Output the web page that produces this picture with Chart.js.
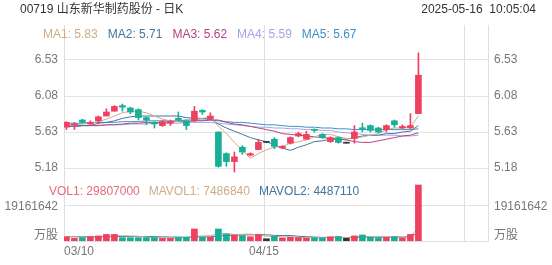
<!DOCTYPE html>
<html>
<head>
<meta charset="utf-8">
<title>00719 日K</title>
<script src="https://cdn.jsdelivr.net/npm/chart.js@4.4.1/dist/chart.umd.min.js"></script>
<style>
    body { margin: 0; background: #fff; }
    #wrap { position: relative; width: 552px; height: 265px; font-family: Arial, "Liberation Sans", "Noto Sans CJK SC", sans-serif; font-size: 12px; }
    #wrap canvas { position: absolute; left: 0; top: 0; }
    .t { position: absolute; white-space: pre; line-height: 12px; }
    .t span { margin-right: 10px; }
    #volRow span { margin-right: 9px; }
</style>
</head>
<body>
<div id="wrap">
    <canvas id="kline" width="552" height="265"></canvas>
    <div class="t" style="left:20px;top:3px;color:#333">00719 山东新华制药股份 - 日K</div>
    <div class="t" style="right:16px;top:3px;color:#333">2025-05-16  10:05:04</div>
    <div class="t" id="maRow" style="left:43px;top:28px"></div>
    <div class="t" id="volRow" style="left:49px;top:185px"></div>
</div>
<script>
// trading days (HK)
const dates = ['03/10','03/11','03/12','03/13','03/14','03/17','03/18','03/19','03/20','03/21',
    '03/24','03/25','03/26','03/27','03/28','03/31','04/01','04/02','04/03','04/07',
    '04/08','04/09','04/10','04/11','04/14','04/15','04/16','04/17','04/22','04/23',
    '04/24','04/25','04/28','04/29','04/30','05/02','05/06','05/07','05/08','05/09',
    '05/12','05/13','05/14','05/15','05/16'];

const open  = [5.69,5.72,5.78,5.73,5.77,5.83,5.89,5.96,5.93,5.91, 5.81,5.75,5.71,5.74,5.80,5.77,5.77,5.90,5.79,5.63,
               5.36,5.26,5.44,5.34,5.41,5.50,5.54,5.43,5.49,5.58, 5.54,5.66,5.60,5.51,5.56,5.49,5.55,5.68,5.71,5.68,
               5.66,5.77,5.68,5.68,5.86];
const high  = [5.76,5.75,5.79,5.77,5.83,5.92,5.96,5.98,5.94,5.92, 5.82,5.76,5.77,5.78,5.88,5.78,5.95,5.91,5.87,5.63,
               5.37,5.38,5.46,5.37,5.54,5.50,5.56,5.46,5.57,5.63, 5.64,5.67,5.61,5.57,5.57,5.49,5.71,5.74,5.72,5.69,
               5.72,5.78,5.72,5.86,6.62];
const low   = [5.66,5.66,5.74,5.71,5.73,5.83,5.89,5.89,5.86,5.78, 5.72,5.68,5.70,5.71,5.77,5.66,5.76,5.85,5.79,5.19,
               5.20,5.13,5.35,5.33,5.41,5.50,5.42,5.42,5.48,5.57, 5.54,5.63,5.55,5.50,5.49,5.49,5.49,5.63,5.63,5.62,
               5.63,5.69,5.67,5.67,5.86];
const close = [5.75,5.73,5.75,5.75,5.82,5.88,5.95,5.94,5.88,5.81, 5.78,5.73,5.76,5.76,5.78,5.71,5.89,5.88,5.83,5.20,
               5.26,5.32,5.38,5.36,5.50,5.50,5.45,5.45,5.56,5.61, 5.60,5.65,5.56,5.56,5.50,5.49,5.63,5.67,5.65,5.63,
               5.71,5.72,5.70,5.71,6.34];

const ma1 = [5.72,5.72,5.73,5.74,5.76,5.79,5.83,5.87,5.89,5.89, 5.87,5.83,5.79,5.77,5.76,5.75,5.78,5.80,5.82,5.70,
             5.61,5.50,5.40,5.30,5.36,5.41,5.44,5.45,5.49,5.51, 5.53,5.57,5.60,5.60,5.57,5.55,5.55,5.57,5.59,5.61,
             5.66,5.68,5.68,5.69,5.83];
const ma2 = [5.70,5.70,5.71,5.71,5.74,5.75,5.77,5.80,5.82,5.83, 5.83,5.83,5.83,5.83,5.83,5.81,5.80,5.80,5.79,5.73,
             5.68,5.64,5.60,5.56,5.53,5.51,5.47,5.43,5.40,5.44, 5.47,5.51,5.52,5.54,5.54,5.54,5.56,5.58,5.59,5.59,
             5.61,5.61,5.63,5.64,5.71];
const ma3 = [5.70,5.70,5.71,5.71,5.71,5.72,5.72,5.73,5.74,5.74, 5.75,5.75,5.75,5.76,5.76,5.76,5.77,5.77,5.78,5.78,
             5.75,5.73,5.72,5.70,5.68,5.66,5.64,5.61,5.60,5.59, 5.58,5.57,5.56,5.55,5.54,5.53,5.51,5.50,5.50,5.52,
             5.54,5.56,5.58,5.59,5.62];
const ma4 = [5.71,5.71,5.71,5.71,5.71,5.72,5.72,5.72,5.73,5.73, 5.73,5.74,5.74,5.74,5.74,5.75,5.75,5.75,5.75,5.74,
             5.73,5.72,5.71,5.70,5.69,5.69,5.68,5.68,5.67,5.67, 5.66,5.66,5.65,5.65,5.63,5.62,5.61,5.60,5.59,5.59,
             5.59,5.59,5.58,5.58,5.59];
const ma5 = [5.74,5.74,5.74,5.75,5.75,5.75,5.75,5.76,5.76,5.76, 5.77,5.77,5.77,5.77,5.77,5.78,5.78,5.78,5.78,5.77,
             5.76,5.75,5.75,5.74,5.73,5.72,5.72,5.71,5.70,5.70, 5.69,5.69,5.68,5.68,5.67,5.67,5.66,5.66,5.66,5.66,
             5.66,5.66,5.66,5.66,5.67];

const vol = [2300000,1400000,1800000,2300000,2700000,3500000,3500000,1800000,1800000,1800000,
             1800000,1800000,1400000,1400000,1800000,2000000,6400000,2000000,2000000,6400000,
             3700000,3200000,2900000,2300000,3500000,1200000,2500000,1600000,2000000,1800000,
             1500000,1700000,1600000,2200000,2400000,1400000,2700000,3200000,2000000,1800000,
             1900000,2200000,1600000,3500000,29807000];
const mavol1 = [2400000,2200000,2100000,2100000,2100000,2300000,2800000,2800000,2700000,2500000,
                2100000,1800000,1700000,1600000,1600000,1700000,2600000,2700000,2800000,3800000,
                4100000,3500000,3600000,3700000,3100000,2600000,2500000,2200000,2200000,1800000,
                1900000,1700000,1700000,1800000,1900000,1900000,2100000,2400000,2300000,2200000,
                2300000,2200000,1900000,2200000,7486840];
const mavol2 = [2300000,2300000,2300000,2300000,2300000,2300000,2400000,2400000,2400000,2400000,
                2400000,2300000,2200000,2100000,2100000,2000000,2200000,2200000,2200000,2700000,
                2900000,3100000,3200000,3300000,3300000,3300000,3000000,2900000,2900000,2500000,
                2300000,2100000,1900000,2000000,2000000,1800000,1900000,2100000,2100000,2100000,
                2100000,2200000,2100000,2300000,4487110];

const priceTicks = [5.18, 5.63, 6.08, 6.53];
const volTick = 19161642;
const gridSlots = [0, 25, 50];   // 03/10, 04/15, next (future) slot

const maLegend = [
    ['MA1', '5.83', '#cfab88'], ['MA2', '5.71', '#3f77a0'], ['MA3', '5.62', '#b4437f'],
    ['MA4', '5.59', '#a2a4e6'], ['MA5', '5.67', '#3d90c9']
];
const volLegend = [
    ['VOL1', '29807000', '#e8697b'], ['MAVOL1', '7486840', '#cfab88'], ['MAVOL2', '4487110', '#3f77a0']
];

document.getElementById('maRow').innerHTML = maLegend.map(m =>
    '<span style="color:' + m[2] + '">' + m[0] + ': ' + m[1] + '</span>').join('');
document.getElementById('volRow').innerHTML = volLegend.map(m =>
    '<span style="color:' + m[2] + '">' + m[0] + ': ' + m[1] + '</span>').join('');

const FAM = 'Arial, "Liberation Sans", "Noto Sans CJK SC", sans-serif';
Chart.defaults.font.family = FAM;
Chart.defaults.font.size = 12;

const UP = '#f0405f', DOWN = '#17b096', FLAT = '#333';
const idx = dates.map((d, i) => i);
const colorOf = i => close[i] > open[i] ? UP : (close[i] < open[i] ? DOWN : FLAT);
const barColors = idx.map(colorOf);

function lineSet(values, color, axis) {
    return {
        type: 'line',
        data: idx.map(i => ({ x: i, y: values[i] })),
        borderColor: color,
        borderWidth: 1,
        pointRadius: 0,
        tension: 0,
        yAxisID: axis,
        order: 5
    };
}

// side labels, volume grid and date labels
const extras = {
    id: 'extras',
    beforeDatasetsDraw(chart) {
        const { ctx, chartArea: a, scales } = chart;
        const gy = Math.round(scales.yv.getPixelForValue(volTick)) + 0.5;
        ctx.save();
        ctx.strokeStyle = '#e2e2e2';
        ctx.lineWidth = 1;
        ctx.beginPath();
        ctx.moveTo(a.left, gy);
        ctx.lineTo(a.right, gy);
        ctx.stroke();

        ctx.font = '12px ' + FAM;
        ctx.fillStyle = '#777';
        ctx.textBaseline = 'middle';
        ctx.textAlign = 'right';
        ctx.fillText(String(volTick), a.left - 6, gy + 1);
        ctx.fillText('万股', a.left - 6, a.bottom - 5);
        ctx.textAlign = 'left';
        ctx.fillText(String(volTick), a.right + 6, gy + 1);
        ctx.fillText('万股', a.right + 6, a.bottom - 5);

        gridSlots.forEach((s, k) => {
            if (!dates[s]) return;
            const px = scales.x.getPixelForValue(s - 0.3);
            ctx.textAlign = k === 0 ? 'left' : 'center';
            ctx.fillText(dates[s], k === 0 ? a.left : px, a.bottom + 11);
        });
        ctx.restore();
    }
};

new Chart(document.getElementById('kline'), {
    type: 'bar',
    data: {
        datasets: [
            {
                data: idx.map(i => ({ x: i, y: [open[i], close[i]] })),
                backgroundColor: barColors,
                barThickness: 6,
                minBarLength: 1,
                grouped: false,
                yAxisID: 'y',
                order: 1
            },
            {
                data: idx.map(i => ({ x: i, y: [low[i], high[i]] })),
                backgroundColor: barColors,
                barThickness: 1,
                minBarLength: 1,
                grouped: false,
                yAxisID: 'y',
                order: 2
            },
            {
                data: idx.map(i => ({ x: i, y: vol[i] })),
                backgroundColor: barColors,
                barThickness: 6,
                grouped: false,
                yAxisID: 'yv',
                order: 3
            },
            lineSet(ma1, '#cfab88', 'y'),
            lineSet(ma2, '#3f77a0', 'y'),
            lineSet(ma3, '#b4437f', 'y'),
            lineSet(ma4, '#a2a4e6', 'y'),
            lineSet(ma5, '#3d90c9', 'y'),
            lineSet(mavol1, '#cfab88', 'yv'),
            lineSet(mavol2, '#3f77a0', 'yv')
        ]
    },
    options: {
        responsive: false,
        devicePixelRatio: 1,
        animation: false,
        layout: { padding: { top: 25, left: 0, right: 0, bottom: 0 } },
        plugins: { legend: { display: false }, tooltip: { enabled: false } },
        scales: {
            x: {
                type: 'linear',
                min: -0.3,
                max: 52.7,
                offset: false,
                grid: { offset: false, color: '#dedede', drawTicks: false },
                border: { display: true, color: '#dedede' },
                ticks: { display: false },
                afterBuildTicks: s => { s.ticks = gridSlots.map(v => ({ value: v - 0.3 })); },
                afterFit: s => { s.height = 24; }
            },
            y: {
                type: 'linear',
                position: 'left',
                min: 4.2675,
                max: 6.9675,
                grid: { color: '#e4e4e4', drawTicks: false },
                border: { color: '#dedede' },
                ticks: { color: '#777', padding: 6, callback: v => v.toFixed(2) },
                afterBuildTicks: s => { s.ticks = priceTicks.map(v => ({ value: v })); },
                afterFit: s => { s.width = 64; }
            },
            yr: {
                type: 'linear',
                position: 'right',
                min: 4.2675,
                max: 6.9675,
                grid: { display: false, drawTicks: false },
                border: { color: '#dedede' },
                ticks: { color: '#777', padding: 6, callback: v => v.toFixed(2) },
                afterBuildTicks: s => { s.ticks = priceTicks.map(v => ({ value: v })); },
                afterFit: s => { s.width = 64; }
            },
            yv: {
                type: 'linear',
                display: false,
                min: 0,
                max: 114969852
            }
        }
    },
    plugins: [extras]
});
</script>
</body>
</html>
